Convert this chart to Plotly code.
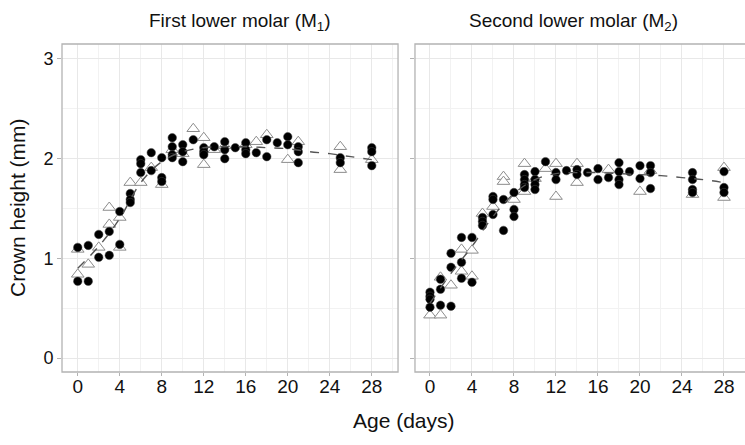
import plotly.graph_objects as go

# ---------------- data ----------------
# First lower molar (M1)
m1_circle_age = [0,0, 1,1, 2,2, 3,3, 4,4, 5,5,5, 6,6,6, 7,7, 8,8,8, 9,9,9,9, 10,10,10, 11,
                 12,12,12, 13, 14,14,14, 15, 16,16,16, 17, 18,18, 19, 20,20, 21,21,21, 25,25, 28,28,28]
m1_circle_h = [1.11,0.77, 1.13,0.77, 1.24,1.01, 1.27,1.03, 1.47,1.14, 1.65,1.59,1.56,
               1.99,1.95,1.86, 2.06,1.88, 2.01,1.81,1.77, 2.21,2.12,2.04,2.01, 2.14,2.07,1.97, 2.19,
               2.11,2.07,2.04, 2.12, 2.17,2.09,2.00, 2.11, 2.16,2.09,2.05, 2.06, 2.19,2.02, 2.16,
               2.22,2.14, 2.12,2.07,1.96, 2.01,1.96, 2.11,2.07,1.93]
m1_tri_age = [0,0, 1, 2, 3,3, 4,4, 5, 6, 7, 8, 9, 10, 11, 12,12, 13, 14, 16, 17, 18, 20, 21, 25,25, 28]
m1_tri_h = [1.09,0.84, 0.94, 1.11, 1.51,1.34, 1.41,1.11, 1.76, 1.76, 1.91, 1.74, 2.09, 2.05, 2.30,
            2.21,1.94, 2.09, 2.13, 2.14, 2.17, 2.24, 1.99, 2.17, 2.12,1.89, 1.99]
m1_fit_age = [0, 2, 4, 6, 8, 10, 12, 14, 16, 18, 20, 22, 24, 26, 28]
m1_fit_h = [0.90, 1.12, 1.40, 1.76, 1.97, 2.07, 2.11, 2.12, 2.12, 2.11, 2.10, 2.07, 2.05, 2.02, 1.99]

# Second lower molar (M2)
m2_circle_age = [0,0,0,0, 1,1,1, 2,2,2, 3,3,3, 4,4, 5,5,5, 6,6,6, 7,7, 8,8,8, 9,9,9,9, 10,10,10,10,
                 11, 12,12, 13, 14,14, 15, 16,16, 17, 18,18,18,18, 19, 20,20, 21,21,21, 25,25,25,25, 28,28,28]
m2_circle_h = [0.66,0.62,0.59,0.51, 0.79,0.69,0.53, 1.05,0.91,0.52, 1.21,0.96,0.80, 1.21,0.76,
               1.41,1.37,1.33, 1.62,1.59,1.44, 1.59,1.28, 1.66,1.49,1.42, 1.84,1.79,1.74,1.71,
               1.87,1.79,1.74,1.69, 1.97, 1.86,1.79, 1.88, 1.89,1.84, 1.86, 1.90,1.79, 1.81,
               1.96,1.87,1.79,1.74, 1.87, 1.93,1.80, 1.93,1.86,1.70, 1.86,1.79,1.69,1.66, 1.87,1.71,1.66]
m2_tri_age = [0, 1,1, 2, 3,3, 4,4, 5, 6, 7,7, 8, 9,9, 10, 11, 12,12, 14,14, 17, 20, 21, 25, 28,28]
m2_tri_h = [0.43, 0.43,0.81, 0.73, 1.09,0.87, 1.08,0.82, 1.45, 1.52, 1.82,1.77, 1.59, 1.95,1.67,
            1.80, 1.90, 1.95,1.62, 1.95,1.76, 1.89, 1.67, 1.88, 1.64, 1.91,1.61]
m2_fit_age = [0, 2, 4, 6, 8, 10, 12, 14, 16, 18, 20, 22, 24, 26, 28]
m2_fit_h = [0.55, 0.85, 1.12, 1.42, 1.65, 1.79, 1.85, 1.86, 1.86, 1.85, 1.84, 1.83, 1.81, 1.79, 1.76]

panel_titles = ["First lower molar (M<sub>1</sub>)", "Second lower molar (M<sub>2</sub>)"]
x_ticks = [0, 4, 8, 12, 16, 20, 24, 28]
y_ticks = [0, 1, 2, 3]

# ---------------- figure ----------------
FONT = "Liberation Sans, Arial, sans-serif"
TXT = "#111111"
fig = go.Figure()

panels = [
    ("x", "y", m1_circle_age, m1_circle_h, m1_tri_age, m1_tri_h, m1_fit_age, m1_fit_h),
    ("x2", "y2", m2_circle_age, m2_circle_h, m2_tri_age, m2_tri_h, m2_fit_age, m2_fit_h),
]
for xa, ya, ca, ch, ta, th, fa, fh in panels:
    fig.add_trace(go.Scatter(x=ta, y=th, mode="markers", xaxis=xa, yaxis=ya, showlegend=False,
                             marker=dict(symbol="triangle-up", size=11, color="white",
                                         line=dict(color="#8c8c8c", width=1))))
    fig.add_trace(go.Scatter(x=ca, y=ch, mode="markers", xaxis=xa, yaxis=ya, showlegend=False,
                             marker=dict(symbol="circle", size=8.5, color="black",
                                         line=dict(color="#444444", width=0.5))))
    fig.add_trace(go.Scatter(x=fa, y=fh, mode="lines", xaxis=xa, yaxis=ya, showlegend=False,
                             line=dict(color="#555555", width=1.4, dash="dash", shape="spline")))

grid_major = "#e8e8e8"
grid_minor = "#f2f2f2"
common_x = dict(tickmode="array", tickvals=x_ticks, ticks="outside", ticklen=3, tickcolor="#b3b3b3",
                showgrid=True, gridcolor=grid_major, gridwidth=1, zeroline=False, showline=False,
                ticklabelstandoff=-6,
                minor=dict(dtick=2, tick0=0, showgrid=True, gridcolor=grid_minor, gridwidth=0.8),
                tickfont=dict(family=FONT, size=19, color=TXT))
common_y = dict(tickmode="array", tickvals=y_ticks, ticks="outside", ticklen=4, tickcolor="#b3b3b3",
                showgrid=True, gridcolor=grid_major, gridwidth=1, zeroline=False, showline=False,
                range=[-0.14, 3.15],
                minor=dict(dtick=0.5, tick0=0, showgrid=True, gridcolor=grid_minor, gridwidth=0.8),
                tickfont=dict(family=FONT, size=18, color=TXT))

fig.update_layout(
    width=745, height=445,
    margin=dict(l=62, r=0, t=44, b=73),
    paper_bgcolor="white", plot_bgcolor="white",
    xaxis=dict(domain=[0, 0.492], range=[-1.5, 30.5], anchor="y", **common_x),
    xaxis2=dict(domain=[0.5168, 1.0], range=[-1.43, 30.0], anchor="y2", **common_x),
    yaxis=dict(domain=[0, 1], anchor="x", **common_y),
    yaxis2=dict(domain=[0, 1], anchor="x2", showticklabels=False, **common_y),
    font=dict(family=FONT, color=TXT),
)

# panel borders
fig.add_shape(type="rect", xref="x domain", yref="y domain", x0=0, x1=1, y0=0, y1=1,
              line=dict(color="#b3b3b3", width=1.3), fillcolor="rgba(0,0,0,0)", layer="above")
fig.add_shape(type="rect", xref="x2 domain", yref="y2 domain", x0=0, x1=1.05, y0=0, y1=1,
              line=dict(color="#b3b3b3", width=1.3), fillcolor="rgba(0,0,0,0)", layer="above")

# strip titles
title_pos = [("x domain", 0.53), ("x2 domain", 0.48)]
for (xref, xpos), t in zip(title_pos, panel_titles):
    fig.add_annotation(text=t, xref=xref, yref="paper", x=xpos, y=1.0,
                       yshift=22, xanchor="center", yanchor="middle", showarrow=False,
                       font=dict(family=FONT, size=19, color=TXT))

# axis titles
fig.add_annotation(text="Crown height (mm)", xref="paper", yref="paper", x=0, y=0.5, xshift=-45,
                   xanchor="center", yanchor="middle", textangle=-90, showarrow=False,
                   font=dict(family=FONT, size=21, color=TXT))
fig.add_annotation(text="Age (days)", xref="paper", yref="paper", x=0.5, y=0, yshift=-48,
                   xanchor="center", yanchor="middle", showarrow=False,
                   font=dict(family=FONT, size=21, color=TXT))

fig.write_html("out.html", config={"displayModeBar": False},
               post_script="document.body.style.margin='0';")
